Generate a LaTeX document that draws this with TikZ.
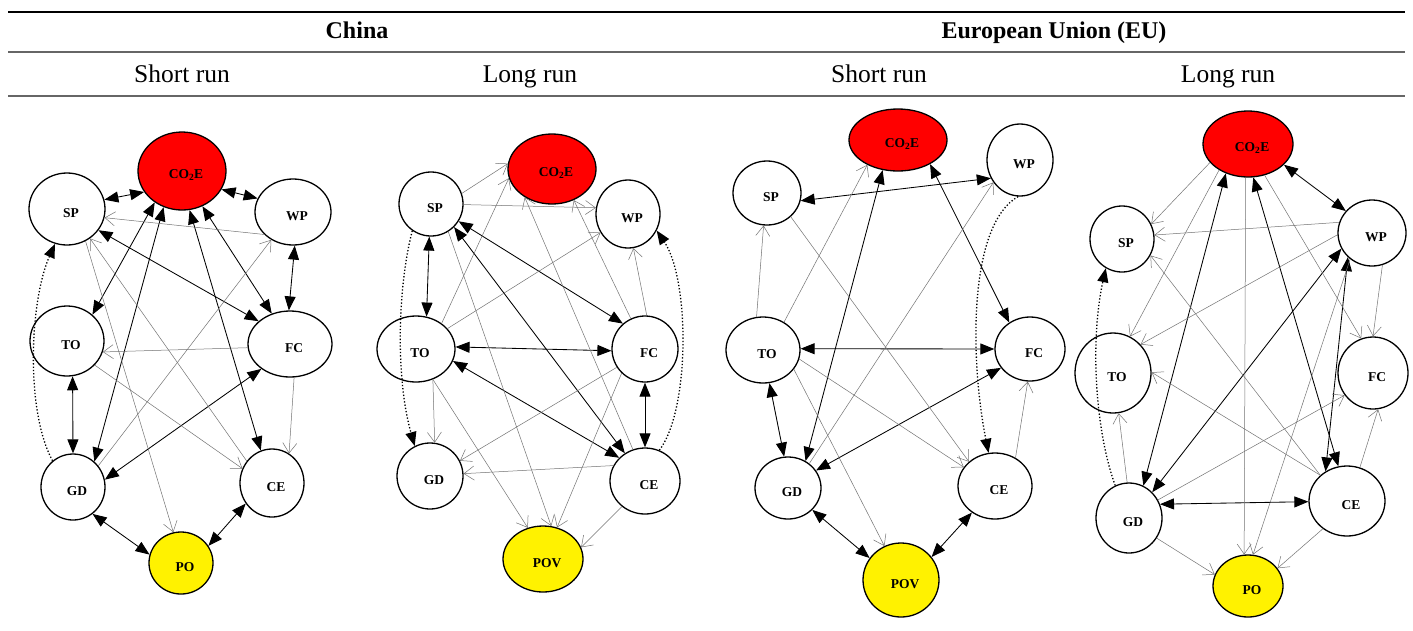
\documentclass[tikz,border=0pt]{standalone}
\usepackage{fontspec}
\setmainfont{Liberation Serif}
\usetikzlibrary{arrows.meta,shapes.geometric}
\begin{document}
\begin{tikzpicture}[x=1pt,y=1pt,
  nd/.style={ellipse, draw, line width=1.3pt, inner sep=0pt},
  lab/.style={font=\bfseries\fontsize{13.5}{15}\selectfont, xshift=4pt, yshift=-4pt},
  hdb/.style={font=\bfseries\fontsize{24}{28}\selectfont, anchor=base},
  hdr/.style={font=\fontsize{25.5}{29}\selectfont, anchor=base},
  dbl/.style={line width=0.85pt, {Triangle[length=14pt,width=11pt]}-{Triangle[length=14pt,width=11pt]}},
  sgl/.style={line width=0.5pt, draw=black!55, -{Straight Barb[length=10pt,width=14pt]}},
  dtd/.style={line width=1.3pt, dotted, -{Triangle[length=14pt,width=11pt]}}
]
\fill[white] (0,0) rectangle (1413,-630);
\useasboundingbox (0,0) rectangle (1413,-630);

% header
\draw[line width=1.6pt] (8,-12) -- (1405,-12);
\draw[line width=1.2pt, black!60] (8,-52) -- (1405,-52);
\draw[line width=1.2pt, black!60] (8,-96) -- (1405,-96);
\node[hdb] (hchina) at (357,-38) {China};
\node[hdb] (heu) at (1054,-38) {European Union (EU)};
\node[hdr] (hs1) at (182,-82) {Short run};
\node[hdr] (hl1) at (530,-82) {Long run};
\node[hdr] (hs2) at (879,-82) {Short run};
\node[hdr] (hl2) at (1228,-82) {Long run};

% ---------- Panel 1: China short run ----------
\node[nd, fill=red, minimum width=88pt, minimum height=78pt, label={[lab]center:CO\textsubscript{2}E}] (co1) at (182,-171) {};
\node[nd, minimum width=76pt, minimum height=72pt, label={[lab]center:SP}] (sp1) at (67,-209) {};
\node[nd, minimum width=76pt, minimum height=66pt, label={[lab]center:WP}] (wp1) at (293,-212) {};
\node[nd, minimum width=74pt, minimum height=70pt, label={[lab]center:TO}] (to1) at (67,-341) {};
\node[nd, minimum width=84pt, minimum height=66pt, label={[lab]center:FC}] (fc1) at (290,-344) {};
\node[nd, minimum width=64pt, minimum height=66pt, label={[lab]center:GD}] (gd1) at (73,-487) {};
\node[nd, minimum width=64pt, minimum height=68pt, label={[lab]center:CE}] (ce1) at (272,-483) {};
\node[nd, fill=yellow, minimum width=64pt, minimum height=62pt, label={[lab]center:PO}] (po1) at (181,-563) {};

\draw[dbl] (sp1.14) -- (co1.209);
\draw[dbl] (co1.335) -- (wp1.159);
\draw[dbl] (co1.229) -- (to1.46);
\draw[dbl] (co1.243) -- (gd1.50);
\draw[dbl] (co1.281) -- (ce1.109);
\draw[dbl] (co1.300) -- (fc1.121);
\draw[dbl] (wp1.273) -- (fc1.92);
\draw[dbl] (sp1.326) -- (fc1.144);
\draw[dbl] (to1.279) -- (gd1.90);
\draw[dbl] (fc1.221) -- (gd1.13);
\draw[dbl] (gd1.306) -- (po1.165);
\draw[dbl] (ce1.218) -- (po1.32);
\draw[sgl] (wp1.218) -- (sp1.347);
\draw[sgl] (ce1.139) -- (sp1.308);
\draw[sgl] (sp1.300) -- (po1.104);
\draw[sgl] (gd1.40) -- (wp1.232);
\draw[sgl] (fc1.185) -- (to1.343);
\draw[sgl] (fc1.277) -- (ce1.60);
\draw[sgl] (to1.319) -- (ce1.154);
\draw[dtd] (gd1.128) .. controls (25,-410) and (30,-300) .. (sp1.251);

% ---------- Panel 2: China long run ----------
\node[nd, fill=red, minimum width=88pt, minimum height=70pt, label={[lab]center:CO\textsubscript{2}E}] (co2) at (552,-169) {};
\node[nd, minimum width=64pt, minimum height=64pt, label={[lab]center:SP}] (sp2) at (431,-204) {};
\node[nd, minimum width=64pt, minimum height=68pt, label={[lab]center:WP}] (wp2) at (628,-214) {};
\node[nd, minimum width=78pt, minimum height=66pt, label={[lab]center:TO}] (to2) at (416,-349) {};
\node[nd, minimum width=66pt, minimum height=66pt, label={[lab]center:FC}] (fc2) at (645,-349) {};
\node[nd, minimum width=66pt, minimum height=66pt, label={[lab]center:GD}] (gd2) at (430,-476) {};
\node[nd, minimum width=70pt, minimum height=66pt, label={[lab]center:CE}] (ce2) at (645,-481) {};
\node[nd, fill=yellow, minimum width=80pt, minimum height=66pt, label={[lab]center:POV}] (po2) at (543,-559) {};

\draw[dbl] (sp2.267) -- (to2.72);
\draw[dbl] (sp2.328) -- (fc2.131);
\draw[dbl] (sp2.315) -- (ce2.126);
\draw[dbl] (to2.3) -- (fc2.183);
\draw[dbl] (to2.342) -- (ce2.138);
\draw[dbl] (fc2.270) -- (ce2.90);
\draw[sgl] (sp2.19) -- (co2.173);
\draw[sgl] (sp2.359) -- (wp2.169);
\draw[sgl] (to2.45) -- (co2.192);
\draw[sgl] (to2.33) -- (wp2.214);
\draw[sgl] (ce2.111) -- (co2.226);
\draw[sgl] (fc2.115) -- (co2.305);
\draw[sgl] (fc2.87) -- (wp2.279);
\draw[sgl] (fc2.213) -- (gd2.27);
\draw[sgl] (ce2.154) -- (gd2.4);
\draw[sgl] (to2.299) -- (gd2.82);
\draw[sgl] (to2.299) -- (po2.116);
\draw[sgl] (sp2.302) -- (po2.76);
\draw[sgl] (fc2.226) -- (po2.66);
\draw[sgl] (ce2.228) -- (po2.17);
\draw[dtd] (sp2.235) .. controls (397,-290) and (396,-380) .. (gd2.117);
\draw[dtd] (ce2.65) .. controls (690,-410) and (690,-280) .. (wp2.330);

% ---------- Panel 3: EU short run ----------
\node[nd, fill=red, minimum width=98pt, minimum height=62pt, label={[lab]center:CO\textsubscript{2}E}] (co3) at (898,-140) {};
\node[nd, minimum width=66pt, minimum height=72pt, label={[lab]center:WP}] (wp3) at (1020,-160) {};
\node[nd, minimum width=68pt, minimum height=64pt, label={[lab]center:SP}] (sp3) at (767,-193) {};
\node[nd, minimum width=74pt, minimum height=66pt, label={[lab]center:TO}] (to3) at (763,-350) {};
\node[nd, minimum width=70pt, minimum height=64pt, label={[lab]center:FC}] (fc3) at (1030,-349) {};
\node[nd, minimum width=66pt, minimum height=62pt, label={[lab]center:GD}] (gd3) at (788,-488) {};
\node[nd, minimum width=74pt, minimum height=66pt, label={[lab]center:CE}] (ce3) at (995,-486) {};
\node[nd, fill=yellow, minimum width=76pt, minimum height=74pt, label={[lab]center:POV}] (po3) at (901,-580) {};

\draw[dbl] (sp3.347) -- (wp3.212);
\draw[dbl] (co3.323) -- (fc3.128);
\draw[dbl] (co3.243) -- (gd3.57);
\draw[dbl] (to3.2) -- (fc3.180);
\draw[dbl] (to3.281) -- (gd3.97);
\draw[dbl] (fc3.213) -- (gd3.32);
\draw[dbl] (gd3.318) -- (po3.145);
\draw[dbl] (ce3.229) -- (po3.37);
\draw[sgl] (to3.101) -- (sp3.264);
\draw[sgl] (to3.53) -- (co3.219);
\draw[sgl] (gd3.49) -- (wp3.220);
\draw[sgl] (sp3.315) -- (ce3.137);
\draw[sgl] (to3.346) -- (ce3.149);
\draw[sgl] (to3.328) -- (po3.116);
\draw[sgl] (ce3.54) -- (fc3.266);
\draw[dtd] (wp3.267) .. controls (968,-225) and (970,-360) .. (ce3.101);

% ---------- Panel 4: EU long run ----------
\node[nd, fill=red, minimum width=90pt, minimum height=66pt, label={[lab]center:CO\textsubscript{2}E}] (co4) at (1248,-144) {};
\node[nd, minimum width=64pt, minimum height=66pt, label={[lab]center:SP}] (sp4) at (1122,-239) {};
\node[nd, minimum width=68pt, minimum height=66pt, label={[lab]center:WP}] (wp4) at (1372,-233) {};
\node[nd, minimum width=76pt, minimum height=80pt, label={[lab]center:TO}] (to4) at (1113,-373) {};
\node[nd, minimum width=70pt, minimum height=72pt, label={[lab]center:FC}] (fc4) at (1373,-373) {};
\node[nd, minimum width=66pt, minimum height=70pt, label={[lab]center:GD}] (gd4) at (1129,-518) {};
\node[nd, minimum width=76pt, minimum height=70pt, label={[lab]center:CE}] (ce4) at (1347,-501) {};
\node[nd, fill=yellow, minimum width=70pt, minimum height=62pt, label={[lab]center:PO}] (po4) at (1248,-586) {};

\draw[dbl] (co4.330) -- (wp4.140);
\draw[dbl] (co4.233) -- (gd4.66);
\draw[dbl] (co4.279) -- (ce4.104);
\draw[dbl] (wp4.207) -- (gd4.48);
\draw[dbl] (wp4.225) -- (ce4.126);
\draw[dbl] (gd4.24) -- (ce4.181);
\draw[sgl] (co4.206) -- (sp4.27);
\draw[sgl] (wp4.162) -- (sp4.7);
\draw[sgl] (ce4.136) -- (sp4.330);
\draw[sgl] (co4.222) -- (to4.65);
\draw[sgl] (wp4.183) -- (to4.46);
\draw[sgl] (co4.266) -- (po4.97);
\draw[sgl] (co4.298) -- (fc4.109);
\draw[sgl] (wp4.288) -- (fc4.90);
\draw[sgl] (ce4.136) -- (to4.1);
\draw[sgl] (gd4.93) -- (to4.278);
\draw[sgl] (gd4.32) -- (fc4.218);
\draw[sgl] (ce4.69) -- (fc4.278);
\draw[sgl] (gd4.324) -- (po4.161);
\draw[sgl] (ce4.229) -- (po4.31);
\draw[sgl] (wp4.230) -- (po4.81);
\draw[dtd] (gd4.113) .. controls (1095,-430) and (1090,-340) .. (sp4.241);
\end{tikzpicture}
\end{document}
